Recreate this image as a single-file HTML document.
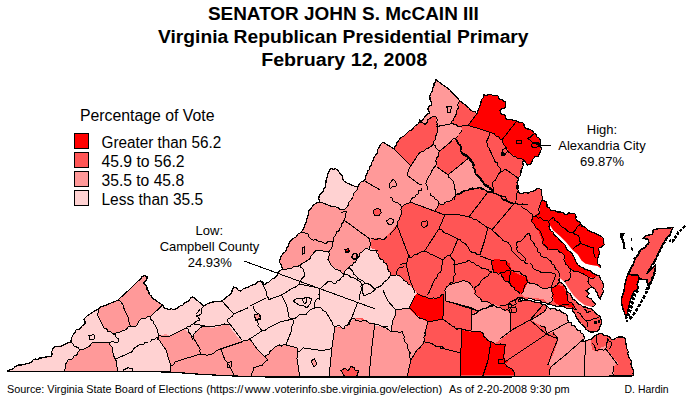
<!DOCTYPE html>
<html><head><meta charset="utf-8"><title>McCain Virginia Primary 2008</title>
<style>
html,body{margin:0;padding:0;background:#fff;}
svg{display:block;}
text{font-family:"Liberation Sans",Arial,sans-serif;fill:#000;}
.t{font-weight:bold;font-size:18.67px;text-anchor:middle;}
.l{font-size:16px;}
.a{font-size:13px;text-anchor:middle;}
.f{font-size:11px;}
</style></head><body>
<svg width="691" height="401" viewBox="0 0 691 401">
<rect width="691" height="401" fill="#fff"/>
<!--MAP-->
<g id="map">
<defs><clipPath id="va"><polygon points="435.6,79.4 449.9,90.0 459.9,100.9 468.9,107.9 476.9,113.9 480.9,102.9 483.9,95.0 488.9,94.4 493.9,95.9 497.9,95.6 499.3,98.9 505.9,101.9 504.9,107.9 501.9,108.9 500.0,110.0 501.7,114.1 505.2,115.2 505.8,118.7 516.2,120.4 517.4,121.6 522.6,122.2 524.3,127.4 532.4,130.8 534.1,133.1 540.5,140.1 540.5,144.7 540.5,151.7 538.8,155.9 534.9,156.9 532.3,159.9 531.5,163.5 527.5,165.1 525.5,162.3 523.5,159.9 522.3,167.9 520.9,173.9 517.9,177.9 517.3,184.9 518.0,190.0 521.0,194.0 530.0,192.0 538.9,188.4 541.9,190.0 542.5,200.0 546.3,202.0 546.9,206.9 552.9,210.9 559.9,211.9 565.9,214.9 568.9,212.9 574.9,213.9 575.9,218.9 579.9,221.9 581.5,225.9 585.9,227.9 590.9,231.9 597.9,234.9 603.9,238.9 604.3,244.9 603.9,245.0 598.9,248.0 599.9,253.0 597.9,258.0 597.9,264.0 600.9,265.9 600.4,268.0 600.4,268.0 597.4,265.7 591.4,265.0 585.4,263.5 581.6,260.5 577.9,254.5 572.7,250.0 566.3,242.3 560.3,236.3 553.3,230.2 550.3,225.5 549.0,226.2 551.0,231.0 557.6,237.4 563.6,243.4 568.3,250.6 574.6,257.8 577.6,264.5 582.4,267.5 589.9,270.4 594.4,274.0 599.6,275.4 599.6,275.4 600.4,279.2 603.4,284.4 602.6,293.4 600.4,299.4 598.1,295.7 595.9,291.2 592.9,287.4 589.9,288.0 586.1,290.4 589.1,293.4 586.9,296.4 591.4,298.7 592.9,301.6 595.9,303.9 592.1,306.9 592.1,306.9 584.8,305.2 578.8,300.7 573.6,295.5 568.3,288.0 564.6,282.0 560.1,278.3 558.3,280.1 562.8,283.8 566.5,289.8 571.8,297.3 577.0,302.5 583.0,307.0 591.4,308.9 594.0,311.0 598.0,315.0 601.0,319.0 601.0,325.0 599.0,330.0 593.0,332.0 587.6,330.5 584.6,326.7 578.2,320.0 574.8,313.3 572.0,308.5 566.0,308.0 560.0,306.0 552.0,305.0 547.0,304.0 540.0,300.6 532.0,299.0 524.0,299.0 520.0,298.0 520.0,300.0 532.0,301.0 539.9,302.6 546.9,306.0 549.9,309.0 559.9,310.0 565.9,314.0 568.9,321.9 576.0,328.0 583.0,333.9 585.0,337.9 583.0,341.9 586.9,340.5 591.9,338.9 596.9,334.9 599.9,333.3 606.9,335.9 613.9,339.9 618.9,336.9 624.9,337.9 626.9,348.9 629.9,358.9 632.9,368.9 633.9,375.9 500.0,377.0 400.0,377.0 268.0,377.0 234.0,376.0 200.0,374.3 170.0,372.0 130.0,371.6 64.0,371.6 7.5,371.6 7.5,371.0 11.0,369.5 19.0,364.9 29.0,363.5 33.0,359.9 42.0,357.9 50.9,356.9 52.9,348.9 54.9,346.3 62.9,345.5 70.9,342.3 72.9,335.0 75.9,330.0 80.9,328.0 84.9,324.0 83.9,319.0 86.9,316.0 97.9,309.0 103.9,306.0 115.9,301.0 118.8,300.0 119.0,298.9 129.0,290.0 138.0,281.0 144.0,275.6 146.9,276.4 146.9,279.0 143.0,283.0 146.9,287.0 148.9,294.0 152.9,298.9 157.9,301.9 162.9,304.9 163.9,307.9 168.9,309.9 177.9,307.9 186.9,301.9 192.9,296.9 203.9,305.9 213.9,301.9 221.8,300.9 231.8,293.0 233.8,287.0 240.8,291.0 246.0,287.9 253.0,284.9 261.0,280.9 264.4,284.9 270.0,280.9 276.9,275.9 277.9,272.9 282.9,268.9 279.9,262.9 280.9,256.9 284.9,252.0 288.9,244.0 293.9,238.0 299.9,233.0 304.0,227.9 307.0,217.9 309.0,209.9 315.0,203.9 320.0,201.9 319.0,195.9 323.0,192.0 325.9,184.0 326.9,178.0 328.9,172.0 330.9,168.0 337.9,170.0 342.9,176.0 343.9,181.0 349.9,184.0 357.9,187.0 360.9,182.0 364.9,180.0 366.9,174.0 369.9,167.0 371.9,162.0 372.9,160.9 375.9,154.9 378.9,147.9 382.9,142.0 393.9,148.9 396.9,143.0 401.9,137.0 405.9,134.0 408.9,131.0 412.9,129.0 417.9,124.0 419.9,120.0 420.0,121.9 424.0,117.9 430.0,112.9 428.0,108.9 432.0,102.9 430.0,98.9 431.0,93.0 434.0,86.0"/></clipPath></defs>
<g clip-path="url(#va)" shape-rendering="crispEdges">
<rect x="0" y="70" width="691" height="320" fill="#ff5555"/>
<polygon points="329.0,385.0 331.9,347.9 334.9,326.9 340.0,326.9 346.0,328.9 349.0,323.0 355.0,318.0 363.0,318.0 366.0,323.0 375.0,325.9 382.9,326.9 390.9,331.9 392.9,320.0 395.9,310.0 408.9,308.0 414.9,296.0 416.9,293.0 409.9,284.9 402.9,278.9 396.9,274.9 390.9,274.9 387.9,267.9 382.9,260.0 378.9,257.0 376.9,250.0 370.9,248.0 365.9,249.0 362.0,251.0 358.0,258.0 354.0,262.9 348.0,267.9 343.0,274.9 337.9,269.9 331.9,265.9 327.9,259.9 328.9,252.0 316.9,250.0 312.9,254.0 309.9,258.9 299.9,264.9 290.9,268.9 282.9,268.9 277.9,272.9 276.9,275.9 270.0,280.9 264.4,284.9 261.0,280.9 253.0,284.9 246.0,287.9 240.8,291.0 233.8,287.0 231.8,293.0 221.8,300.9 213.9,301.9 203.9,305.9 192.9,296.9 186.9,301.9 177.9,307.9 168.9,309.9 163.9,307.9 162.9,304.9 157.9,301.9 152.9,298.9 148.9,294.0 146.9,287.0 143.0,283.0 146.9,279.0 146.9,276.4 144.0,275.6 138.0,281.0 129.0,290.0 119.0,298.9 118.8,300.0 115.9,301.0 103.9,306.0 97.9,309.0 86.9,316.0 83.9,319.0 84.9,324.0 80.9,328.0 75.9,330.0 72.9,335.0 70.9,342.3 62.9,345.5 54.9,346.3 52.9,348.9 50.9,356.9 42.0,357.9 33.0,359.9 29.0,363.5 19.0,364.9 11.0,369.5 7.5,371.0 5.0,372.0 5.0,385.0" fill="#ffd2d2"/>
<polygon points="79.9,349.9 85.9,347.9 91.9,342.9 109.9,342.3 112.9,351.9 115.9,359.9 117.8,371.3 63.9,371.3 66.9,361.9 72.9,357.9 76.9,354.9" fill="#ff9999"/>
<polygon points="97.9,309.0 115.9,301.0 118.8,300.0 123.8,308.0 128.8,319.0 130.8,326.0 121.8,331.0 112.9,334.0 103.9,328.0 98.9,318.0" fill="#ff9999"/>
<polygon points="119.0,298.9 129.0,290.0 138.0,281.0 144.0,275.6 146.9,276.4 146.9,279.0 143.0,283.0 146.9,287.0 148.9,294.0 152.9,298.9 157.9,301.9 162.9,304.9 149.9,316.9 140.0,319.9 136.0,325.9 131.0,326.9 128.0,317.9 122.0,303.9" fill="#ff9999"/>
<polygon points="157.0,336.9 165.9,334.0 169.9,335.9 176.9,332.0 183.9,329.0 186.9,331.0 192.9,336.9 198.9,346.9 200.9,353.9 177.9,360.9 170.9,365.9 165.9,349.9" fill="#ff9999"/>
<polygon points="192.9,336.9 197.9,330.0 204.9,326.0 211.9,328.0 227.9,324.0 231.9,330.0 241.8,341.9 220.9,348.9 213.9,352.9 204.9,354.9 200.9,353.9 198.9,346.9" fill="#ff9999"/>
<polygon points="177.9,360.9 200.9,353.9 204.9,354.9 213.9,352.9 220.9,348.9 224.9,359.9 229.9,367.9 233.9,375.5 199.9,374.3 169.9,371.9 170.9,365.9" fill="#ff9999"/>
<polygon points="220.9,348.9 241.8,341.9 249.8,338.9 257.8,349.9 267.8,359.9 261.8,365.9 253.8,367.9 251.8,376.5 233.9,375.5 229.9,367.9 224.9,359.9" fill="#ff9999"/>
<polygon points="250.0,337.9 258.0,349.9 265.0,357.9 272.0,349.9 277.0,345.9 285.9,344.9 296.9,347.9 297.9,351.9 296.9,357.9 299.9,377.9 238.0,377.9 240.0,349.9" fill="#ff9999"/>
<polygon points="334.9,326.9 343.9,328.9 353.9,318.0 363.8,320.0 374.8,324.0 371.8,347.9 368.8,377.9 328.9,377.9 331.9,347.9" fill="#ff9999"/>
<polygon points="375.0,325.9 382.9,326.9 390.9,331.9 399.9,332.9 402.9,330.9 403.9,338.9 406.9,343.9 408.9,350.9 410.9,359.9 406.9,377.9 367.0,377.9 371.0,347.9" fill="#ff9999"/>
<polygon points="395.9,310.0 408.9,308.0 415.9,315.0 422.9,319.0 427.9,322.0 424.9,332.9 423.9,341.9 416.9,349.9 410.9,359.9 408.9,350.9 406.9,343.9 403.9,338.9 402.9,330.9 399.9,332.9 390.9,331.9 392.9,320.0" fill="#ff9999"/>
<polygon points="282.9,268.9 279.9,262.9 280.9,256.9 284.9,252.0 288.9,244.0 293.9,238.0 299.9,233.0 304.0,227.9 307.0,217.9 309.0,209.9 315.0,203.9 320.0,201.9 319.0,195.9 323.0,192.0 325.9,184.0 326.9,178.0 328.9,172.0 330.9,168.0 337.9,170.0 342.9,176.0 343.9,181.0 349.9,184.0 357.9,187.0 360.9,182.0 364.9,180.0 366.9,174.0 369.9,167.0 371.9,162.0 372.9,160.9 375.9,154.9 378.9,147.9 382.9,142.0 393.9,148.9 396.9,143.0 401.9,137.0 405.9,134.0 408.9,131.0 412.9,129.0 417.9,124.0 419.9,120.0 420.0,121.9 424.0,117.9 430.0,112.9 428.0,108.9 432.0,102.9 430.0,98.9 431.0,93.0 434.0,86.0 435.6,79.4 449.9,90.0 459.9,100.9 456.9,109.9 453.9,117.9 450.9,123.9 461.0,126.4 462.0,130.0 459.0,134.0 456.0,139.0 452.0,141.0 440.0,151.0 437.0,157.9 437.0,166.9 448.0,174.9 468.9,157.9 472.9,162.9 474.9,171.9 479.9,177.9 483.9,183.9 491.9,189.9 492.9,192.9 484.9,189.9 477.9,187.9 469.9,188.9 464.0,190.9 456.0,194.9 455.9,196.0 449.9,201.0 440.9,205.0 438.9,203.0 434.9,210.6 410.0,202.0 402.0,207.0 400.0,217.0 397.0,224.9 394.9,226.0 390.9,232.0 386.9,236.0 382.9,240.0 376.9,238.0 370.9,240.0 370.9,248.0 365.9,249.0 362.0,251.0 358.0,258.0 354.0,262.9 348.0,267.9 343.0,274.9 337.9,269.9 331.9,265.9 327.9,259.9 328.9,252.0 316.9,250.0 312.9,254.0 309.9,258.9 299.9,264.9 290.9,268.9" fill="#ff9999"/>
<polygon points="393.9,148.9 396.9,143.0 401.9,137.0 405.9,134.0 408.9,131.0 412.9,129.0 417.9,124.0 419.9,120.0 420.0,121.9 425.0,124.3 430.0,118.3 435.6,116.5 435.8,117.0 436.8,124.0 437.8,132.0 435.8,139.0 432.8,144.4 428.8,147.9 423.9,150.9 417.9,154.9 410.9,165.9" fill="#ff5555"/>
<polygon points="330.9,168.0 337.9,170.0 342.9,176.0 343.9,181.0 349.9,184.0 357.9,187.0 354.9,192.0 349.9,200.9 346.9,206.9 342.9,209.9 332.9,206.9 320.0,201.9 319.0,195.9 323.0,192.0 325.9,184.0 326.9,178.0 328.9,172.0" fill="#ffd2d2"/>
<polygon points="444.9,289.9 448.9,285.0 461.9,281.0 467.9,282.0 472.9,287.9 474.9,293.9 479.9,297.9 481.9,301.9 489.9,302.9 493.9,304.9 487.9,307.9 479.9,310.9 471.9,307.9 445.9,300.9" fill="#ff9999"/>
<polygon points="472.0,330.9 472.0,314.0 485.9,307.0 493.9,304.0 508.9,312.0 510.9,315.0 510.9,331.9 495.9,342.9 490.9,341.9 485.9,337.9 480.9,331.9" fill="#ff9999"/>
<polygon points="528.0,282.3 534.0,283.9 539.9,286.9 545.9,288.9 550.9,287.9 551.9,291.9 552.9,299.9 547.9,303.9 542.9,298.9 532.0,297.9 524.0,296.9 521.0,293.9 524.0,287.9" fill="#ff9999"/>
<polygon points="542.9,305.0 546.9,306.0 549.9,309.0 559.9,310.0 565.9,314.0 568.9,321.9 576.0,328.0 583.0,333.9 585.0,337.9 583.0,341.9 585.9,341.9 590.9,339.9 591.9,349.9 597.9,351.9 599.9,347.9 607.9,344.9 606.9,348.9 613.9,358.9 618.9,362.9 613.9,365.9 613.5,378.9 549.8,378.9 550.8,366.9 548.8,363.9 553.8,352.9 557.8,340.9 553.8,331.9 546.9,333.9 545.9,328.0 539.9,325.0 530.9,320.0 543.9,312.0 546.9,306.0" fill="#ff9999"/>
<polygon points="476.9,113.9 480.9,102.9 483.9,95.0 488.9,94.4 493.9,95.9 497.9,95.6 499.3,98.9 505.9,101.9 504.9,107.9 501.9,108.9 500.0,110.0 501.7,114.1 505.2,115.2 505.8,118.7 516.2,120.4 517.4,121.6 522.6,122.2 524.3,127.4 532.4,130.8 534.1,133.1 540.5,140.1 540.5,144.7 540.5,151.7 538.8,155.9 534.9,156.9 532.3,159.9 531.5,163.5 527.5,165.1 525.5,162.3 523.5,159.9 515.9,156.9 509.9,153.0 505.9,147.0 501.9,140.0 495.9,135.9 491.9,132.9 479.9,128.9 467.9,125.5" fill="#ff0000"/>
<polygon points="542.5,200.0 546.3,202.0 546.9,206.9 552.9,210.9 559.9,211.9 565.9,214.9 568.9,212.9 574.9,213.9 575.9,218.9 579.9,221.9 581.5,225.9 585.9,227.9 590.9,231.9 597.9,234.9 603.9,238.9 607.8,241.9 607.8,250.0 603.9,267.9 598.9,270.9 598.9,273.5 594.9,277.9 587.9,276.9 579.9,272.9 571.9,269.9 568.9,267.9 564.9,262.0 563.9,255.0 557.9,250.0 548.9,250.0 542.9,245.0 540.9,237.0 537.9,230.0 535.0,225.9 531.0,220.9 533.0,216.3 539.5,212.9 539.9,205.9" fill="#ff0000"/>
<polygon points="491.0,261.0 495.0,258.7 503.7,260.0 510.0,263.7 511.0,271.0 526.0,277.4 528.6,281.0 523.6,291.0 520.0,293.6 515.0,290.0 510.0,283.6 503.7,280.0 501.0,273.7 493.7,272.4" fill="#ff0000"/>
<polygon points="551.0,288.6 556.0,285.0 563.5,286.0 566.0,292.4 567.3,300.0 573.5,305.0 577.3,310.0 572.3,307.3 566.0,306.0 560.0,306.0 554.8,302.3 552.3,296.0" fill="#ff0000"/>
<polygon points="408.9,308.0 414.9,296.0 416.9,293.0 425.9,297.0 435.9,299.0 443.9,294.0 442.9,319.0 427.9,322.0 422.9,319.0 415.9,315.0" fill="#ff0000"/>
<polygon points="462.0,330.0 471.0,331.9 480.9,331.9 485.9,337.9 490.9,341.9 487.9,360.9 482.9,374.9 460.0,374.9 461.0,352.9" fill="#ff0000"/>
<polygon points="490.9,341.9 497.9,344.9 505.9,343.9 504.9,351.9 503.9,358.9 508.9,360.9 504.9,363.9 509.9,367.9 513.9,371.9 514.9,374.9 482.9,374.9 487.9,360.9" fill="#ff0000"/>
</g>
<g shape-rendering="crispEdges">
<polygon points="653.3,229.7 659.2,228.5 666.6,228.3 673.2,227.5 671.7,229.7 670.3,234.1 666.6,237.8 663.6,243.0 660.7,248.9 657.7,254.8 654.8,260.7 651.9,265.1 648.9,270.2 646.7,273.9 655.5,265.0 654.8,272.4 651.9,279.7 648.9,286.4 646.7,279.7 639.3,279.0 637.9,275.0 627.6,274.7 629.8,270.2 632.0,265.0 629.0,273.9 629.8,269.5 632.7,265.8 634.2,261.4 635.7,257.7 638.6,254.8 640.8,249.6 645.2,247.4 646.7,244.5 648.9,243.0 648.2,239.3 643.0,238.6 646.0,235.6 652.6,234.1" fill="#ff5555" stroke="#000" stroke-width="1.4"/>
<polygon points="627.6,274.7 637.9,275.0 639.3,279.0 637.1,284.1 638.6,288.6 634.2,291.5 632.0,295.9 630.5,300.3 629.0,306.2 627.6,312.1 626.1,319.2 625.3,315.1 623.1,309.2 621.7,304.0 621.7,298.1 623.9,291.5 624.6,285.6 626.1,279.7" fill="#ff0000" stroke="#000" stroke-width="1.4"/>
<polyline points="685.0,226.0 681.3,229.7 678.4,232.4 675.4,237.1 672.5,241.2 669.5,240.3" fill="none" stroke="#000" stroke-width="2.6" stroke-dasharray="3 1.3"/>
<polyline points="670.7,233.9 666.6,238.6 663.6,243.7 660.7,249.6 657.7,255.5 654.8,260.9 651.9,265.8 648.9,271.0" fill="none" stroke="#000" stroke-width="2.2" stroke-dasharray="3.5 1.2"/>
<polyline points="654.8,272.4 651.9,279.7 648.9,287.1 645.2,294.5 641.5,301.8 637.1,309.2 632.7,315.8 628.6,319.8" fill="none" stroke="#000" stroke-width="2.4" stroke-dasharray="3.5 1.5"/>
<polyline points="637.9,290.3 634.5,294.5 633.0,300.3 631.5,306.2 629.5,312.1 627.6,318.0" fill="none" stroke="#000" stroke-width="3.0" stroke-dasharray="3 1.2"/>
<polyline points="646.7,279.7 648.2,285.6 646.0,290.8" fill="none" stroke="#000" stroke-width="2.0" stroke-dasharray="3 1"/>
<polyline points="634.2,259.2 635.7,257.0 637.9,254.8 640.1,250.3" fill="none" stroke="#000" stroke-width="2.2" stroke-dasharray="2.5 1.5"/>
<polyline points="640.8,249.6 645.2,247.4 648.2,243.7" fill="none" stroke="#000" stroke-width="1.8" stroke-dasharray="3 1"/>
<polygon points="619.5,233.4 624.6,233.4 622.7,237.1 624.6,242.2 625.6,248.6 623.1,248.6 622.4,241.5 620.2,237.1" fill="#000"/>
<polygon points="631.2,238.3 632.4,238.3 632.4,241.2 631.2,241.2" fill="#000"/>
<polygon points="631.2,247.1 633.0,247.7 632.7,250.6 631.5,250.1" fill="#000"/>
<polygon points="625.8,319.6 628.0,319.6 628.0,321.8 625.8,321.8" fill="#000"/>
</g>
<g fill="none" stroke="#000" stroke-width="1" stroke-linejoin="round" shape-rendering="crispEdges">
<polyline points="459.9,100.9 458.3,102.9 457.7,105.2 458.4,107.9 456.9,109.9 456.5,112.8 455.7,115.5 453.9,117.9 453.3,120.1 451.3,121.6 450.9,123.9"/>
<polyline points="420.0,121.9 422.7,122.7 425.0,124.3 427.0,122.6 427.7,119.7 430.0,118.3 432.6,116.7 435.6,116.5 437.5,119.9 436.8,122.1 437.6,124.3 436.9,126.5 450.9,123.9"/>
<polyline points="476.9,113.9 467.9,125.5"/>
<polyline points="450.9,123.9 453.5,124.0 456.1,124.5 458.2,126.5 460.9,126.5 463.2,125.7 465.5,125.2 467.9,125.5"/>
<polyline points="467.9,125.5 479.9,128.9 491.9,132.9 494.3,133.8 495.9,135.9 498.6,136.6 500.2,139.3 502.9,139.9"/>
<polyline points="393.9,148.9 410.9,165.9"/>
<polyline points="410.9,165.9 409.3,167.6 408.9,169.9 407.8,172.8 407.9,175.9 418.9,183.9 421.9,184.9"/>
<polyline points="436.8,124.0 437.9,126.6 437.9,129.3 437.8,132.0 436.5,134.1 435.7,136.5 435.8,139.0 433.7,141.3 432.8,144.4 431.1,146.5 428.8,147.9 426.1,149.0 423.9,150.9 421.6,151.8 419.5,153.0 417.9,154.9 410.9,165.9"/>
<polyline points="432.8,144.4 435.1,145.4 435.9,148.1 437.6,149.8 439.8,150.9 438.4,153.0 438.6,155.9 436.8,157.9 435.7,160.5 436.6,163.3 435.8,165.9 433.9,167.5 432.8,169.6 431.3,171.4 430.8,173.9 428.9,176.2 427.8,178.9 426.3,181.2 425.9,183.9 427.5,186.7 427.8,189.9"/>
<polyline points="439.8,150.9 450.8,142.0 452.0,139.9 453.8,138.4 456.5,138.0 457.8,136.0"/>
<polyline points="363.5,180.3 379.9,189.9"/>
<polyline points="501.9,140.0 515.9,122.0"/>
<polyline points="501.9,140.0 502.8,142.6 504.0,145.0 505.9,147.0 506.5,149.5 507.9,151.5 509.9,153.0 511.5,154.9 513.5,156.2 515.9,156.9 518.1,158.7 521.1,158.4 523.5,159.9"/>
<polyline points="489.9,133.0 489.4,135.5 488.3,137.7 487.4,140.0 485.9,142.0 487.4,143.8 487.3,146.3 488.9,148.0 493.9,158.9 494.7,161.6 497.4,163.0 497.9,166.0 499.9,167.9 500.9,171.9"/>
<polyline points="500.9,171.9 503.2,170.8 504.9,168.9 517.9,177.9"/>
<polyline points="500.9,171.9 498.5,174.1 496.9,176.9 495.6,180.0 492.9,181.9 492.7,184.3 492.9,186.7 493.9,188.9 492.9,192.9"/>
<polyline points="462.0,130.0 460.9,132.3 459.0,134.0"/>
<polyline points="456.0,139.0 457.9,140.6 458.1,143.4 460.0,145.0 461.5,147.5 460.8,150.5 462.0,153.0 463.8,155.4 466.2,156.8 468.9,157.9 471.5,159.9 472.9,162.9 472.7,165.3 473.4,167.5 475.2,169.5 474.9,171.9 476.1,174.3 478.8,175.5 479.9,177.9 482.0,179.4 482.1,182.2 483.9,183.9 486.4,184.8 487.4,187.6 490.4,187.8 491.9,189.9"/>
<polyline points="468.9,157.9 448.0,174.9"/>
<polyline points="437.0,166.9 448.0,174.9 448.9,177.5 451.5,179.1 453.1,181.3 454.0,183.9 456.0,194.9 454.8,197.3 455.0,199.9"/>
<polyline points="456.0,194.9 457.6,193.2 460.4,193.6 461.8,191.4 464.0,190.9 467.1,190.5 469.9,188.9 472.5,187.7 475.3,188.9 477.9,187.9 480.4,187.8 482.4,189.9 484.9,189.9 487.3,191.7 490.1,192.4 492.9,192.9"/>
<polyline points="533.6,133.7 532.0,135.7 530.1,137.3 527.8,138.4 530.3,140.3"/>
<polyline points="530.3,140.3 532.1,142.3 534.7,143.0"/>
<polyline points="390.0,197.0 392.1,198.2 392.8,200.9 395.0,202.0 397.8,203.0 400.2,204.6 402.0,207.0 403.6,205.2 405.7,204.0 408.3,203.7 410.0,202.0 444.9,215.0"/>
<polyline points="402.0,207.0 400.9,209.4 401.8,212.2 401.4,214.7 400.0,217.0 399.5,219.8 397.2,222.0 397.0,224.9 403.0,240.9 408.0,253.9 409.6,255.6 410.0,257.9 412.4,257.0 414.0,254.9 416.6,254.6 418.9,253.0 421.3,252.0 424.0,251.9"/>
<polyline points="397.0,224.9 396.0,227.3 394.7,229.4 392.9,231.2 391.0,232.9 390.0,234.9"/>
<polyline points="444.9,215.0 438.9,228.9 424.0,251.9"/>
<polyline points="410.0,202.0 411.1,199.9 412.4,198.0 414.9,197.1 416.0,195.0 418.1,193.8 418.3,190.9 421.1,190.3 422.0,188.0"/>
<polyline points="429.9,193.0 430.9,195.5 433.8,196.6 434.9,199.0 437.5,200.4 438.9,203.0 438.2,205.9 436.7,208.3 434.9,210.6"/>
<polyline points="455.9,196.0 453.4,197.1 452.3,199.9 449.9,201.0 447.3,201.3 445.1,202.3 443.5,204.8 440.9,205.0 438.9,203.0"/>
<polyline points="444.9,215.0 455.9,214.0 468.9,217.0 471.4,217.5 473.2,219.4 475.9,219.3 477.9,220.9 487.9,227.9 490.3,228.2 491.9,229.9"/>
<polyline points="468.9,217.0 487.9,192.0"/>
<polyline points="491.9,229.9 513.8,204.0"/>
<polyline points="492.9,193.0 496.1,193.4 498.8,195.0 501.3,196.1 502.4,198.9 504.8,200.0 506.8,201.6 509.6,201.3 511.2,203.8 513.8,204.0 516.9,203.7 519.8,205.0 522.4,204.0 525.2,205.0 527.8,204.0"/>
<polyline points="438.9,228.9 441.5,229.5 443.2,231.8 445.3,233.4 447.9,233.9 457.9,238.9 460.4,239.5 461.6,242.0 463.9,242.9 466.1,244.4 467.5,246.4 468.9,248.5 469.9,250.9 472.2,252.4 475.1,252.4 477.1,254.7 479.9,254.9"/>
<polyline points="487.9,227.9 483.9,242.9 479.9,254.9"/>
<polyline points="491.9,229.9 501.8,238.9 503.4,240.9 506.2,241.4 508.3,242.8 509.8,244.9 511.4,247.7 511.8,250.9 519.8,258.9 521.5,260.7 524.1,260.9 525.4,263.2 527.8,263.9"/>
<polyline points="457.9,238.9 452.9,250.9 451.8,253.2 449.9,254.9"/>
<polyline points="424.0,251.9 426.5,251.8 428.6,252.9 430.5,254.6 432.9,254.9 442.9,259.9 444.9,257.8 447.1,255.9 449.9,254.9"/>
<polyline points="449.9,254.9 451.1,257.3 452.6,259.4 454.9,260.9 453.9,264.9"/>
<polyline points="518.4,190.0 517.7,192.3 516.0,194.0 516.4,196.3 516.1,198.6 516.0,200.8 515.0,203.0"/>
<polyline points="521.0,205.9 522.7,207.8 525.0,208.9 527.8,210.5 530.0,212.9 532.0,214.2 533.0,216.3"/>
<polyline points="542.5,200.0 540.4,202.6 539.9,205.9 538.9,208.2 538.9,210.5 539.5,212.9 537.7,214.6 535.6,215.9 533.0,216.3"/>
<polyline points="533.0,216.3 532.5,218.8 531.0,220.9 533.4,223.1 535.0,225.9 536.4,228.4 538.9,229.9 540.4,231.6 541.4,233.6 541.9,235.9 543.1,238.5 543.0,241.2 542.9,243.9 545.1,245.5 546.9,247.3 547.9,249.9"/>
<polyline points="533.0,216.3 535.8,216.1 538.1,218.1 540.9,217.9 542.5,219.7 544.6,220.6 547.2,220.4 548.9,221.9 549.5,225.9"/>
<polyline points="549.2,221.2 551.0,218.8 553.7,217.4 554.9,220.2 557.4,221.9 559.5,223.3 560.5,225.9 562.7,227.2 565.3,228.7 567.2,230.9 569.9,232.5 573.1,232.4 575.6,230.2 576.9,227.2 579.9,224.6"/>
<polyline points="573.1,232.4 574.8,234.3 577.4,235.0 579.1,236.9 579.4,240.0 580.6,242.9 582.9,244.8 585.9,245.1 588.2,246.4 590.7,247.1 593.3,247.3 594.0,249.5 593.3,251.8 594.1,254.0 594.4,256.3 596.0,258.0"/>
<polyline points="580.6,242.9 578.3,245.2 575.4,246.6 573.1,248.8"/>
<polyline points="548.9,250.0 551.1,249.5 553.4,249.5 555.6,249.4 557.9,250.0 559.5,252.1 562.2,253.0 563.9,255.0 565.0,257.2 563.8,259.8 564.9,262.0 565.8,264.3 568.0,265.7 568.9,267.9 571.9,269.9 574.3,271.6 577.5,271.1 579.9,272.9 582.3,273.2 584.1,274.5 586.1,275.4 587.9,276.9 590.1,278.1 592.4,278.4 594.9,277.9"/>
<polyline points="529.0,233.0 530.2,235.9 530.0,239.0 532.2,240.9 533.9,243.3 535.0,246.0 536.7,247.7 537.6,249.7 537.9,252.0 540.1,253.1 540.8,255.7 542.9,257.0 545.3,257.3 547.2,258.3 548.9,260.0 551.0,261.3 551.8,263.8 553.9,265.0 554.8,267.2 555.9,269.4 557.9,270.9 559.4,273.7 559.9,276.9"/>
<polyline points="516.0,244.0 517.2,246.5 516.6,249.5 518.0,252.0 520.8,253.6 523.0,256.0 525.1,258.2 526.0,261.0"/>
<polyline points="530.0,263.0 532.1,265.1 533.0,267.9 534.7,269.4 536.6,270.5 538.9,270.9 541.6,272.7 544.9,272.9 547.2,272.3 549.6,272.0 551.9,272.9 554.2,273.4 555.9,274.9"/>
<polyline points="516.0,244.0 517.5,241.8 520.5,241.7 522.3,239.9 524.0,238.0 525.3,236.0 527.0,234.3 529.0,233.0"/>
<polyline points="500.0,260.0 502.5,260.9 505.0,260.0 507.0,261.9 506.9,265.0 509.0,266.9 511.0,269.9 513.1,270.9 515.4,271.5 517.8,271.0 520.0,271.9 521.3,274.0 523.1,275.3 525.7,275.9 527.0,277.9 526.9,280.2 528.0,282.3"/>
<polyline points="528.0,282.3 526.3,283.9 524.7,285.6 524.0,287.9 523.8,290.3 522.7,292.2 521.0,293.9"/>
<polyline points="528.0,282.3 530.9,283.6 534.0,283.9 536.3,284.3 538.2,285.4 539.9,286.9 542.7,288.6 545.9,288.9 548.3,287.8 550.9,287.9 555.9,274.9"/>
<polyline points="550.9,287.9 551.9,291.9 553.1,294.5 551.8,297.3 552.9,299.9 550.8,302.3 547.9,303.9"/>
<polyline points="550.9,287.9 553.2,287.5 555.1,286.4 556.9,284.9 558.5,283.1 559.4,281.0 559.5,278.5"/>
<polyline points="570.9,269.9 569.7,272.5 571.0,275.3 569.9,277.9 568.6,280.1 565.8,280.3 564.3,282.3"/>
<polyline points="587.9,276.9 589.0,279.1 587.9,281.7 588.9,283.9 591.0,285.8 592.3,288.3"/>
<polyline points="568.9,304.9 566.6,304.5 564.3,304.8 562.1,305.0 559.9,305.9"/>
<polyline points="409.0,255.0 408.8,257.4 407.0,259.3 407.2,261.9 406.0,264.0 402.9,263.8 400.0,265.0"/>
<polyline points="406.0,264.0 410.0,280.0 415.0,292.9"/>
<polyline points="442.9,260.0 440.9,272.0 438.8,273.2 437.5,275.1 436.9,277.6 435.0,279.0 430.0,289.9 429.0,292.7 427.0,294.9"/>
<polyline points="453.9,265.0 454.8,267.2 454.0,269.7 454.9,272.0 455.2,274.7 453.3,276.9 454.0,279.6 452.9,282.0 450.4,282.9 448.9,285.0 446.5,287.1 444.9,289.9 445.9,300.9"/>
<polyline points="453.9,265.0 465.9,262.0 468.9,260.0 470.9,262.1 473.9,262.9 475.9,265.0 478.6,265.4 480.7,267.6 483.1,268.8 485.9,269.0 488.1,269.5 489.6,271.7 491.9,272.0"/>
<polyline points="479.9,256.0 490.9,260.0 493.9,260.0"/>
<polyline points="491.9,272.0 489.3,273.4 487.9,276.0 485.6,277.4 483.3,278.8 481.3,280.6 479.9,283.0 478.4,285.3 476.2,286.7 473.9,287.9 475.3,290.8 474.9,293.9 477.1,296.3 479.9,297.9 481.3,299.7 481.9,301.9 484.6,301.7 487.3,301.8 489.9,302.9 491.5,304.7 493.9,304.9 495.6,306.5 497.6,307.6 500.1,307.5 501.9,308.9 504.7,310.1 507.8,309.9"/>
<polyline points="448.9,285.0 461.9,281.0 465.0,280.9 467.9,282.0 470.2,283.4 471.6,285.6 472.9,287.9"/>
<polyline points="445.9,300.9 471.9,307.9 474.3,309.7 476.9,310.7 479.9,310.9 482.3,309.3 485.0,308.2 487.9,307.9 489.5,306.1 492.1,306.3 493.9,304.9"/>
<polyline points="443.9,294.9 442.9,318.9 451.9,325.9 454.3,326.7 455.6,329.0 457.9,329.9"/>
<polyline points="471.9,307.9 471.9,329.9"/>
<polyline points="507.8,309.9 509.9,311.4 510.8,313.9 510.8,329.9"/>
<polyline points="507.8,309.9 508.8,307.0 508.8,303.9 510.3,301.8 512.8,300.9 515.6,299.9 517.8,297.9"/>
<polyline points="499.9,272.4 502.5,272.3 505.0,272.0 507.2,270.1 509.8,270.0 510.3,272.4 510.1,274.7 509.4,277.0 509.7,280.1 508.8,283.0"/>
<polyline points="500.0,306.0 512.0,304.0"/>
<polyline points="512.0,304.0 511.3,306.2 510.8,308.4 511.9,310.8 511.0,313.0"/>
<polyline points="512.0,329.9 530.0,320.0 545.9,333.9 557.9,327.9 568.9,321.9"/>
<polyline points="530.0,320.0 542.9,305.0"/>
<polyline points="500.0,338.9 512.0,329.9"/>
<polyline points="545.9,333.9 557.9,338.9 552.9,350.9 547.9,364.9"/>
<polyline points="591.9,342.9 593.7,344.5 594.7,346.5 595.4,348.7 595.9,350.9 598.3,349.8 600.8,349.4 603.6,350.2 605.9,348.9 607.8,337.9"/>
<polyline points="605.9,348.9 617.8,364.9"/>
<polyline points="607.8,337.9 608.5,340.6 611.2,342.1 611.8,344.9 610.3,346.7 609.8,348.9"/>
<polyline points="530.9,320.0 543.9,312.0 545.3,310.2 546.6,308.4 546.9,306.0"/>
<polyline points="539.9,325.0 541.6,326.6 544.1,326.6 545.9,328.0 545.9,331.0 546.9,333.9"/>
<polyline points="546.9,333.9 504.9,361.9"/>
<polyline points="553.8,331.9 554.0,334.5 556.4,336.1 557.4,338.4 557.8,340.9"/>
<polyline points="550.8,366.9 549.7,369.5 549.6,372.2 549.8,374.9"/>
<polyline points="550.8,367.0 567.8,353.0 583.4,339.2"/>
<polyline points="461.0,352.9 440.0,347.9"/>
<polyline points="487.9,360.9 490.9,341.9"/>
<polyline points="585.9,341.9 585.0,354.9 584.4,375.9"/>
<polyline points="613.9,365.9 613.3,368.4 613.2,370.9 612.8,373.4 613.5,375.9"/>
<polyline points="596.9,335.9 596.6,338.2 596.6,340.4 596.9,342.7 597.5,344.9"/>
<polyline points="70.9,342.3 72.9,343.7 73.9,345.9 76.2,346.8 78.4,347.9 79.9,349.9 77.9,352.1 76.9,354.9 74.4,355.7 72.9,357.9 71.2,359.7 68.4,359.8 66.9,361.9 65.7,364.1 65.8,366.7 65.1,369.1 63.9,371.3"/>
<polyline points="79.9,349.9 83.2,349.7 85.9,347.9 88.4,346.9 90.4,345.2 91.9,342.9 109.9,342.3 112.3,341.6 114.6,342.2 116.9,342.9 118.6,341.3 118.8,338.9 116.4,337.8 115.4,335.0 112.9,334.0 111.0,332.0 108.0,331.6 106.6,328.8 103.9,328.0 98.9,318.0 98.0,315.8 97.7,313.6 98.7,311.2 97.9,309.0"/>
<polyline points="109.9,342.3 109.8,345.0 111.9,346.9 112.7,349.3 112.9,351.9 113.3,354.8 114.4,357.4 115.9,359.9 117.8,371.3"/>
<polyline points="118.8,300.0 120.6,301.7 122.0,303.6 123.2,305.6 123.8,308.0 128.8,319.0 128.9,321.5 129.5,323.8 130.8,326.0 128.3,326.8 126.6,329.0 124.3,330.2 121.8,331.0 119.8,332.3 117.2,332.0 115.3,333.9 112.9,334.0"/>
<polyline points="115.9,358.9 131.8,351.9 133.3,349.4 135.3,347.4 137.8,345.9 140.1,344.5 143.1,344.9 145.0,342.4 147.8,342.3"/>
<polyline points="131.0,326.9 133.6,326.9 136.0,325.9 137.8,324.2 138.2,321.6 140.0,319.9 142.2,318.3 145.1,319.1 147.2,317.0 149.9,316.9 162.9,304.9"/>
<polyline points="149.9,316.9 150.7,319.6 153.3,321.1 153.9,324.0 155.9,325.9 156.1,328.3 157.9,330.2 157.7,332.8 158.9,334.9 158.7,337.7 156.9,339.9"/>
<polyline points="158.9,334.9 161.0,336.0 163.3,336.4 165.5,336.9 167.9,336.9 185.9,327.9 187.5,326.2 190.1,326.3 191.5,324.2 193.9,323.9 195.5,322.0 197.5,320.6 199.9,319.9 198.4,317.4 195.9,315.9 198.3,315.7 200.2,314.5 201.9,312.9 200.9,308.9 203.9,305.9"/>
<polyline points="193.9,323.9 209.9,326.9 221.8,324.9 224.4,324.0 227.2,324.9 229.8,323.9 228.0,321.7 227.8,318.9 230.3,317.8 232.3,316.2 233.8,313.9 221.8,300.9"/>
<polyline points="233.8,313.9 247.8,307.9"/>
<polyline points="185.9,327.9 188.2,329.3 188.6,332.4 190.9,333.9 191.4,337.1 192.9,339.9"/>
<polyline points="229.8,323.9 241.8,339.9"/>
<polyline points="150.0,341.9 152.0,339.7 155.0,339.1 157.0,336.9 165.9,349.9 170.9,365.9 170.9,369.0 169.9,371.9"/>
<polyline points="192.9,336.9 198.9,346.9 200.2,349.0 199.8,351.7 200.9,353.9 177.9,360.9 175.1,361.9 173.5,364.7 170.9,365.9"/>
<polyline points="195.9,314.0 198.3,311.8 199.9,309.0"/>
<polyline points="192.9,336.9 193.9,334.1 195.7,331.9 197.9,330.0 199.9,328.2 202.1,326.6 204.9,326.0"/>
<polyline points="241.8,341.9 220.9,348.9 218.3,349.7 216.0,351.1 213.9,352.9 211.8,354.1 209.6,354.6 207.3,355.2 204.9,354.9 200.9,353.9"/>
<polyline points="220.9,348.9 224.9,359.9 226.7,361.5 227.9,363.6 229.2,365.6 229.9,367.9 231.7,370.2 233.0,372.7 233.9,375.5"/>
<polyline points="241.8,341.9 244.2,340.2 247.3,340.4 249.8,338.9 261.8,331.0 264.1,330.6 266.1,329.7 267.8,328.0"/>
<polyline points="249.8,338.9 257.8,349.9 267.8,359.9"/>
<polyline points="267.8,359.9 265.3,361.4 263.4,363.5 261.8,365.9 259.0,365.9 256.3,366.7 253.8,367.9 254.0,370.2 252.2,372.1 251.5,374.2 251.8,376.5"/>
<polyline points="253.8,306.0 254.0,308.8 255.2,311.2 257.3,313.3 257.8,316.0 257.2,318.5 257.1,321.0 258.3,323.5 257.8,326.0 260.2,328.2 261.8,331.0"/>
<polyline points="261.0,280.9 267.0,292.9 266.5,295.3 268.1,297.5 268.0,299.9"/>
<polyline points="282.9,268.9 285.6,269.6 288.2,268.4 290.9,268.9 292.8,267.1 295.2,266.4 297.9,266.4 299.9,264.9 309.9,258.9 310.8,256.1 312.9,254.0 314.6,251.7 316.9,250.0 328.9,252.0 330.9,249.0 332.3,246.9 332.7,244.5 332.9,242.0 329.9,241.0 327.4,241.8 325.9,244.0 323.4,242.5 320.8,241.5 317.9,241.0 315.8,239.6 313.1,240.2 310.9,239.0 308.9,236.8 307.9,234.0 305.3,233.1 302.7,232.6 299.9,233.0"/>
<polyline points="332.9,242.0 333.9,239.6 333.9,237.0 335.8,235.0 336.3,232.1 339.1,230.7 339.9,228.0 341.5,226.3 341.4,223.7 343.6,222.3 343.9,220.0"/>
<polyline points="343.9,220.0 369.8,239.0 369.7,241.6 370.8,244.0 369.6,246.9 369.8,250.0 367.4,248.9 364.8,249.0 362.7,251.5 359.8,253.0 359.5,255.5 358.3,257.7 356.3,259.4 355.8,261.9 353.5,262.8 352.7,265.3 350.1,265.8 348.8,267.9 346.7,269.5 344.9,271.4 343.9,273.9"/>
<polyline points="328.9,252.0 329.2,254.7 328.7,257.3 327.9,259.9 329.8,261.5 330.2,264.2 331.9,265.9 333.5,267.8 335.5,269.2 337.9,269.9 340.2,270.8 341.6,273.0 343.9,273.9"/>
<polyline points="343.9,273.9 343.1,276.4 340.9,277.9 339.7,280.0 337.1,280.5 336.2,283.0 333.9,283.9 331.7,281.9 328.9,280.9 319.9,288.9"/>
<polyline points="299.9,264.9 300.4,267.4 303.0,268.5 303.0,271.3 304.9,272.9 303.9,276.9 301.6,278.8 300.1,281.2 298.9,283.9 297.2,285.6 295.3,287.1 292.9,287.9 281.9,294.9 268.0,299.9"/>
<polyline points="298.9,283.9 317.9,287.9"/>
<polyline points="319.9,288.9 319.9,292.0 318.9,294.9 319.8,297.3 319.9,299.9"/>
<polyline points="343.9,273.9 346.6,274.4 349.1,275.3 351.0,277.7 353.8,277.9 356.2,278.9 358.2,280.4 360.3,281.7 361.8,283.9 360.7,286.5 361.7,289.3 360.8,291.9 359.7,294.5 359.7,297.2 359.8,299.9"/>
<polyline points="369.8,250.0 372.4,250.9 375.2,250.1 377.8,251.0"/>
<polyline points="370.8,239.0 373.1,238.5 375.5,239.8 377.8,239.0"/>
<polyline points="250.0,306.0 266.0,298.0"/>
<polyline points="281.0,294.0 286.9,306.0 288.9,317.0 290.6,318.7 292.9,319.0"/>
<polyline points="268.0,327.9 280.0,322.0 292.9,319.0"/>
<polyline points="292.9,319.0 295.7,318.0 297.9,316.1 299.9,314.0 303.0,314.0 305.9,315.0 307.5,312.6 309.3,310.4 311.9,309.0 314.9,308.0 317.9,307.1 320.9,308.0 323.1,310.4 325.9,312.0 331.9,322.0 332.9,324.8 334.9,326.9"/>
<polyline points="334.9,326.9 337.3,325.8 339.9,325.9 341.5,327.9 343.9,328.9 344.9,326.1 347.9,324.8 348.9,322.0 351.0,319.4 353.9,318.0 355.9,320.2 358.8,321.0 361.4,321.2 363.8,320.0 366.2,320.7 368.1,322.2 369.8,324.0 372.3,323.5 374.8,324.0 377.4,324.4 379.8,325.2 381.8,326.9 384.8,326.4 387.8,326.9"/>
<polyline points="349.0,325.0 357.8,302.0"/>
<polyline points="334.9,326.9 331.9,347.9 328.9,377.9"/>
<polyline points="374.8,324.0 371.8,347.9 368.8,377.9"/>
<polyline points="292.9,319.0 293.4,321.8 292.9,324.5 291.6,327.1 291.9,329.9 285.9,344.9"/>
<polyline points="265.0,357.9 266.1,355.3 268.9,354.2 269.8,351.5 272.0,349.9 274.2,347.5 277.0,345.9 279.1,344.8 281.5,346.1 283.6,344.7 285.9,344.9 296.9,347.9 297.9,351.9 298.0,355.0 296.9,357.9 299.9,377.9"/>
<polyline points="297.9,351.9 300.8,350.4 302.9,347.9 323.9,350.9 326.4,349.3 329.4,349.3 331.9,347.9"/>
<polyline points="318.9,298.0 316.3,299.4 314.9,302.0 314.1,305.0 314.9,308.0"/>
<polyline points="382.9,326.9 385.3,327.5 387.2,328.9 389.2,330.1 390.9,331.9 393.2,331.5 395.5,331.6 397.7,331.9 399.9,332.9 402.9,330.9 402.7,333.6 404.2,336.1 403.9,338.9 404.7,341.8 406.9,343.9 408.0,346.1 407.8,348.7 408.9,350.9 410.3,353.0 409.0,355.6 409.7,357.8 410.9,359.9 406.9,377.9"/>
<polyline points="382.9,290.0 387.9,301.0 395.9,310.0 395.7,312.7 395.2,315.3 394.3,317.7 392.9,320.0 390.9,331.9"/>
<polyline points="395.9,310.0 408.9,308.0 411.3,309.1 412.9,311.0 414.7,312.7 415.9,315.0 418.0,316.8 420.1,318.4 422.9,319.0 425.7,320.0 427.9,322.0 424.9,332.9 425.3,335.2 423.8,337.3 424.8,339.7 423.9,341.9 422.8,344.5 420.9,346.4 419.1,348.3 416.9,349.9 410.9,359.9"/>
<polyline points="408.9,308.0 414.9,296.0"/>
<polyline points="416.9,293.0 418.9,294.6 421.1,295.7 423.4,296.5 425.9,297.0 428.3,298.2 430.8,298.7 433.5,297.9 435.9,299.0 437.5,297.2 440.2,297.0 441.5,294.6 443.9,294.0"/>
<polyline points="442.9,319.0 427.9,322.0"/>
<polyline points="455.8,328.9 458.8,328.1 461.8,328.9 464.2,329.7 466.7,330.3 469.2,330.5 471.8,329.9"/>
<polyline points="423.9,341.9 426.6,342.1 429.1,342.9 431.7,343.3 433.9,344.9 436.2,346.4 438.7,346.9 441.6,346.4 443.9,347.9"/>
<polyline points="461.8,328.9 460.8,352.9 460.8,377.9"/>
<polyline points="376.9,238.0 380.1,238.5 382.9,240.0 385.4,238.5 386.9,236.0"/>
<polyline points="403.9,265.9 402.2,267.5 399.6,267.2 397.9,268.9 396.8,271.8 396.9,274.9 393.9,275.5 390.9,274.9 390.3,272.4 388.1,270.6 387.9,267.9 387.3,265.5 386.1,263.5 383.5,262.4 382.9,260.0 380.5,259.0 378.9,257.0 378.8,254.5 376.7,252.6 376.9,250.0"/>
<polyline points="396.9,274.9 399.3,275.6 401.2,277.1 402.9,278.9 404.2,280.9 406.9,281.3 407.7,283.9 409.9,284.9"/>
<polyline points="348.0,267.9 351.0,269.2 353.0,271.9 353.9,274.4 356.0,275.9 358.0,278.5 361.0,279.9 363.3,281.0 365.0,282.9 368.9,283.9 371.3,285.5 373.4,287.4 374.9,289.9 376.4,287.7 378.9,286.9 381.1,285.7 382.7,284.0 383.9,281.9 386.1,280.6 388.0,279.0 389.5,277.0 390.9,274.9"/>
<polyline points="320.0,201.9 332.9,206.9 335.6,207.0 338.1,207.7 340.2,209.9 342.9,209.9 345.2,208.9 346.9,206.9 348.3,205.1 348.3,202.6 349.9,200.9 351.8,199.0 353.0,196.8 353.2,194.0 354.9,192.0 357.1,189.9 357.9,187.0"/>
<polyline points="340.9,212.9 343.8,211.5 346.9,211.9 345.3,214.3 345.4,217.4 343.9,219.9"/>
<polyline points="471.0,331.9 473.5,331.1 475.9,331.2 478.4,331.1 480.9,331.9 483.0,333.5 483.7,336.3 485.9,337.9 487.9,340.5 490.9,341.9 493.5,342.2 495.3,344.5 497.9,344.9 500.5,344.0 503.3,345.0 505.9,343.9 504.8,346.5 504.8,349.2 504.9,351.9 504.0,354.1 503.6,356.5 503.9,358.9"/>
<polyline points="504.9,363.9 507.0,366.4 509.9,367.9 512.4,369.4 513.9,371.9 514.9,375.9"/>
<polyline points="487.9,360.9 482.9,375.9"/>
<polyline points="520.0,293.6 517.8,291.4 515.0,290.0 514.0,287.4 511.3,286.0 510.0,283.6 508.3,281.7 505.5,281.8 503.7,280.0 503.5,277.6 501.2,276.1 501.0,273.7 498.4,274.1 496.2,272.3 493.7,272.4 491.0,261.0"/>
<polyline points="566.0,292.4 567.1,294.8 567.4,297.4 567.3,300.0 569.0,302.1 571.8,302.9 573.5,305.0 574.8,308.0 577.3,310.0 574.5,309.3 572.3,307.3"/>
<polyline points="577.4,311.9 580.2,313.7 582.0,316.5 583.8,319.1 586.4,320.9 587.9,323.8 588.0,327.0"/>
<polyline points="586.4,320.9 589.4,320.9 592.0,319.5 593.9,318.1 596.5,318.6 598.4,317.2"/>
<polyline points="584.0,309.0 586.0,310.3 587.0,312.5 590.9,311.2"/>
<polyline points="445.9,300.9 472.0,309.0 475.2,309.6 478.0,311.4 480.4,309.7 483.1,308.8 486.0,308.5 488.5,306.4 491.5,305.2"/>
<polyline points="472.0,314.5 474.3,314.1 476.3,313.1 478.0,311.4"/>
<polyline points="456.0,139.0 456.8,141.3 457.9,143.5 460.0,145.0 461.2,147.5 460.6,150.5 462.0,153.0 464.6,154.3 467.0,155.6 468.9,157.9 470.3,160.9 472.9,162.9 474.1,165.0 473.1,167.6 474.9,169.5 474.9,171.9 476.0,174.4 477.9,176.2 479.9,177.9 480.7,180.2 483.0,181.6 483.9,183.9 485.5,185.9 488.4,186.2 489.5,188.9 491.9,189.9 492.9,192.9" stroke-width="1.5"/>
<polyline points="456.0,194.9 458.3,194.5 460.4,193.7 462.4,192.7 464.0,190.9 467.2,190.7 469.9,188.9 472.6,189.1 475.3,188.7 477.9,187.9 480.5,187.8 482.7,188.6 484.9,189.9 487.3,191.6 490.5,191.3 492.9,192.9" stroke-width="1.3"/>
<polyline points="492.9,193.0 496.0,193.6 498.8,195.0 501.3,196.0 502.3,198.9 504.8,200.0 507.4,200.3 509.0,202.7 511.8,202.5 513.8,204.0" stroke-width="1.3"/>
</g>
<g stroke="#000" stroke-width="1" shape-rendering="crispEdges">
<polygon points="446.9,106.9 451.9,106.5 449.9,112.9 447.9,112.9" fill="none"/>
<polygon points="393.2,179.3 395.1,181.2 396.6,184.2 395.7,186.5 392.5,186.8 390.2,188.7 389.2,184.2 391.0,181.7" fill="none"/>
<polygon points="516.4,140.3 521.4,140.3 521.4,143.6 517.0,143.6" fill="none"/>
<polygon points="531.5,144.1 533.6,143.0 539.4,143.0 539.4,146.8 533.0,147.3 531.2,146.1" fill="none"/>
<polygon points="535.9,142.8 538.8,142.8 538.8,144.7 536.1,144.7" fill="none"/>
<polygon points="502.3,150.0 505.5,148.0 507.5,151.0 504.3,155.9 501.5,155.0" fill="none"/>
<polygon points="422.0,221.9 426.9,220.9 427.9,224.9 424.0,227.9 421.6,225.9" fill="none"/>
<polygon points="500.8,196.0 505.8,197.0 506.8,200.6 502.8,200.0" fill="none"/>
<polygon points="509.4,302.3 514.8,299.9 516.2,303.9 511.8,305.9" fill="none"/>
<polygon points="508.8,307.9 515.8,306.9 516.8,311.9 509.8,312.9" fill="none"/>
<polygon points="517.8,297.9 522.2,297.5 522.8,300.9 518.8,301.5" fill="none"/>
<polygon points="498.3,359.3 504.3,358.9 504.9,363.5 498.9,363.9" fill="none"/>
<polygon points="88.9,335.9 93.9,334.4 94.9,338.9 89.9,339.9" fill="none"/>
<polygon points="123.8,369.9 127.8,367.9 132.8,368.3 131.8,371.3 124.2,371.3" fill="none"/>
<polygon points="227.3,362.9 231.9,361.5 230.9,367.5 227.9,367.9" fill="none"/>
<polygon points="254.8,316.0 259.8,314.4 260.8,319.6 255.8,320.4" fill="#ff9999"/>
<polygon points="302.3,247.6 304.3,247.0 304.9,253.0 302.9,254.0" fill="none"/>
<polygon points="344.9,249.6 348.8,249.0 349.4,252.0 345.9,253.0" fill="#ff0000"/>
<polygon points="352.2,254.4 356.8,253.0 357.8,256.9 354.8,259.9 351.8,257.9" fill="none"/>
<polygon points="292.9,301.0 297.9,298.0 302.9,299.0 306.9,297.0 311.9,299.0 309.9,304.0 306.9,308.0 302.9,305.0 298.9,305.0" fill="none"/>
<polygon points="302.3,299.0 304.3,304.0 306.9,302.0 306.9,297.0" fill="none"/>
<polygon points="310.9,360.9 314.3,358.9 316.9,363.9 313.9,366.9" fill="#ff9999"/>
<polygon points="254.0,315.0 259.0,313.6 260.4,318.0 256.0,320.0" fill="#ff9999"/>
<polygon points="362.0,284.9 366.9,282.9 369.9,284.9 374.9,289.9 370.9,292.9 364.0,295.9 362.0,290.9" fill="none"/>
<polygon points="345.6,249.4 348.4,248.6 349.2,251.0 346.4,252.2" fill="#ff0000"/>
<polygon points="352.4,254.6 356.0,253.0 357.0,257.0 354.0,259.4 352.0,257.0" fill="none"/>
<polygon points="373.7,210.4 376.7,208.6 380.2,209.2 381.2,212.7 379.0,215.7 375.2,215.7 373.3,213.4" fill="#ff5555"/>
<polygon points="386.5,220.9 390.2,218.2 394.0,220.1 392.5,223.9 388.7,224.6" fill="none"/>
<polygon points="341.0,370.5 345.0,368.0 348.0,371.0 351.0,366.5 354.0,367.5 355.0,370.0 358.5,371.0 356.5,377.0 345.0,377.0" fill="#ff5252"/>
<polygon points="501.9,153.0 503.9,152.0 504.3,155.6 501.9,155.6" fill="#000"/>
<polygon points="516.0,185.5 518.5,185.5 518.5,188.5 516.0,188.5" fill="#000"/>
<polygon points="594.5,321.5 596.0,321.0 596.5,323.5 595.0,324.0" fill="#000"/>
<polygon points="598.0,320.5 599.3,320.5 599.3,322.5 598.0,322.5" fill="#000"/>
</g>
<polyline points="560.1,278.3 558.3,280.1 560.2,282.4 562.8,283.8 564.4,285.6 565.8,287.4 566.5,289.8 567.3,292.0 569.6,293.3 571.0,295.1 571.8,297.3 573.1,299.5 575.6,300.4 577.0,302.5 578.8,304.3 581.3,305.1 583.0,307.0 585.9,307.0 588.5,308.8 591.4,308.9 594.0,311.0 595.6,313.4 598.0,315.0 600.0,316.6 601.0,319.0 601.5,322.0 601.0,325.0 599.5,327.3 599.0,330.0 596.2,331.6 593.0,332.0 590.1,331.9 587.6,330.5 585.7,328.9 584.6,326.7 582.6,325.4 580.9,323.8 579.5,322.0 578.2,320.0 576.7,318.0 575.5,315.7 574.8,313.3 572.9,311.2 572.0,308.5 568.9,308.9 566.0,308.0 563.2,306.4 560.0,306.0 557.3,306.3 554.6,305.8 552.0,305.0 549.6,304.0 547.0,304.0 545.0,302.2 542.1,302.3 540.0,300.6 537.3,300.4 534.6,300.0 532.0,299.0 529.3,298.4 526.7,299.7 524.0,299.0 520.0,298.0 520.0,300.0 532.0,301.0 534.5,302.1 537.2,302.5 539.9,302.6 542.0,304.2 544.7,304.5 546.9,306.0 549.9,309.0 552.4,308.8 555.0,308.9 557.3,310.3 559.9,310.0 561.5,311.9 563.6,313.1 565.9,314.0 567.4,316.4 567.3,319.5 568.9,321.9 571.1,322.9 572.1,325.4 574.5,326.1 576.0,328.0 577.4,329.9 579.9,330.5 580.9,332.9 583.0,333.9 583.6,336.1 585.0,337.9 583.6,339.7 583.0,341.9 586.9,340.5 589.3,339.3 591.9,338.9 594.0,336.4 596.9,334.9 599.9,333.3 602.4,333.7 604.4,335.5 606.9,335.9 609.5,336.8 611.2,339.1 613.9,339.9 616.1,337.8 618.9,336.9 622.0,336.9 624.9,337.9 626.9,348.9 628.2,351.2 627.8,354.1 628.6,356.6 629.9,358.9 631.3,361.2 630.9,364.1 631.5,366.6 632.9,368.9 633.7,371.2 632.9,373.7 633.9,375.9 500.0,377.0 400.0,377.0 268.0,377.0 234.0,376.0 200.0,374.3 170.0,372.0 130.0,371.6 64.0,371.6 7.5,371.6 7.5,371.0 11.0,369.5 13.3,368.8 14.8,366.8 16.8,365.7 19.0,364.9 21.6,365.0 24.1,364.7 26.4,363.4 29.0,363.5 31.3,362.1 33.0,359.9 35.1,358.9 37.6,359.5 39.6,357.9 42.0,357.9 44.2,357.2 46.4,357.0 48.6,356.4 50.9,356.9 52.1,354.4 51.8,351.5 52.9,348.9 54.9,346.3 57.6,346.5 60.3,346.4 62.9,345.5 65.4,344.0 68.1,342.9 70.9,342.3 71.1,339.7 71.9,337.3 72.9,335.0 75.0,332.8 75.9,330.0 78.6,329.5 80.9,328.0 82.4,325.5 84.9,324.0 85.1,321.4 83.9,319.0 86.9,316.0 97.9,309.0 99.7,307.6 101.6,306.5 103.9,306.0 115.9,301.0 118.8,300.0 119.0,298.9 129.0,290.0 138.0,281.0 140.3,279.5 141.7,277.0 144.0,275.6 146.9,276.4 146.9,279.0 145.5,281.5 143.0,283.0 145.3,284.7 146.9,287.0 146.9,289.5 148.9,291.5 148.9,294.0 151.4,296.0 152.9,298.9 155.6,300.0 157.9,301.9 160.2,303.7 162.9,304.9 163.9,307.9 166.6,308.5 168.9,309.9 171.0,308.7 173.5,309.5 175.8,309.0 177.9,307.9 179.9,306.0 182.7,305.3 184.4,303.0 186.9,301.9 189.2,300.6 190.5,298.1 192.9,296.9 203.9,305.9 206.2,304.4 208.7,303.3 211.1,302.3 213.9,301.9 216.5,301.2 219.3,301.9 221.8,300.9 231.8,293.0 232.2,289.8 233.8,287.0 236.5,287.7 238.1,290.2 240.8,291.0 243.1,289.0 246.0,287.9 248.5,287.3 250.5,285.4 253.0,284.9 255.2,284.3 256.7,282.3 258.7,281.3 261.0,280.9 263.1,282.6 264.4,284.9 266.0,283.2 268.4,282.6 270.0,280.9 272.0,278.9 274.9,278.0 276.9,275.9 277.9,272.9 280.1,270.5 282.9,268.9 281.5,267.1 281.3,264.7 279.9,262.9 279.8,259.8 280.9,256.9 282.5,254.1 284.9,252.0 286.3,250.2 286.3,247.7 288.5,246.3 288.9,244.0 290.0,241.6 291.8,239.7 293.9,238.0 296.3,236.9 297.5,234.2 299.9,233.0 302.3,230.7 304.0,227.9 304.3,225.3 306.0,223.1 306.6,220.5 307.0,217.9 308.1,215.3 308.7,212.7 309.0,209.9 311.3,208.2 312.7,205.6 315.0,203.9 317.3,202.4 320.0,201.9 318.9,199.0 319.0,195.9 320.6,193.5 323.0,192.0 323.3,189.1 325.5,186.9 325.9,184.0 326.0,180.9 326.9,178.0 327.4,174.8 328.9,172.0 329.6,169.8 330.9,168.0 333.1,169.3 335.7,168.8 337.9,170.0 339.2,172.3 340.9,174.3 342.9,176.0 342.7,178.6 343.9,181.0 345.7,182.4 347.7,183.4 349.9,184.0 352.4,185.3 355.0,186.5 357.9,187.0 359.0,184.2 360.9,182.0 363.2,181.6 364.9,180.0 365.5,176.9 366.9,174.0 367.3,171.4 369.5,169.6 369.9,167.0 371.4,164.7 371.9,162.0 372.9,160.9 373.5,158.7 374.3,156.6 375.9,154.9 377.4,152.8 377.4,150.0 378.9,147.9 379.9,145.7 381.2,143.7 382.9,142.0 393.9,148.9 394.5,146.7 396.3,145.2 396.9,143.0 398.3,140.8 399.9,138.7 401.9,137.0 404.2,135.9 405.9,134.0 408.9,131.0 411.1,130.4 412.9,129.0 414.1,126.9 415.9,125.3 417.9,124.0 419.4,122.2 419.9,120.0 420.0,121.9 422.3,120.2 424.0,117.9 425.7,115.8 427.6,114.1 430.0,112.9 428.4,111.2 428.0,108.9 428.8,106.6 431.2,105.2 432.0,102.9 430.4,101.2 430.0,98.9 429.8,95.8 431.0,93.0 432.6,90.9 432.5,88.1 434.0,86.0 433.9,83.6 435.6,81.7 435.6,79.4 449.9,90.0 459.9,100.9 468.9,107.9 470.5,109.9 472.5,111.4 475.2,112.0 476.9,113.9 480.9,102.9 481.2,100.0 483.3,97.8 483.9,95.0 486.5,95.3 488.9,94.4 491.5,94.7 493.9,95.9 497.9,95.6 499.3,98.9 501.7,99.5 503.5,101.3 505.9,101.9 505.8,105.0 504.9,107.9 501.9,108.9 500.0,110.0 500.2,112.3 501.7,114.1 505.2,115.2 505.8,118.7 508.3,119.7 511.1,119.2 513.5,120.7 516.2,120.4 517.4,121.6 519.9,122.5 522.6,122.2 524.0,124.6 524.3,127.4 526.8,128.9 529.9,129.2 532.4,130.8 534.1,133.1 536.0,134.5 536.9,136.9 539.2,138.1 540.5,140.1 540.1,142.4 540.5,144.7 541.0,147.0 541.2,149.4 540.5,151.7 539.1,153.6 538.8,155.9 534.9,156.9 532.3,159.9 531.5,163.5 527.5,165.1 525.5,162.3 523.5,159.9 522.7,162.5 523.3,165.3 522.3,167.9 521.0,170.7 520.9,173.9 519.9,176.3 517.9,177.9 518.3,180.3 517.0,182.5 517.3,184.9 517.1,187.5 518.0,190.0 519.0,192.4 521.0,194.0 523.2,193.1 525.4,192.6 527.9,193.2 530.0,192.0 532.4,191.4 534.6,190.6 536.5,188.9 538.9,188.4 541.9,190.0 541.5,192.5 541.5,195.0 542.8,197.5 542.5,200.0 546.3,202.0 547.0,204.4 546.9,206.9 549.2,207.8 550.6,210.0 552.9,210.9 555.3,210.7 557.5,212.0 559.9,211.9 562.1,212.4 564.1,213.4 565.9,214.9 568.9,212.9 571.8,213.8 574.9,213.9 576.0,216.3 575.9,218.9 577.5,220.9 579.9,221.9 581.5,225.9 584.0,226.3 585.9,227.9 588.1,230.3 590.9,231.9 593.4,232.4 595.7,233.6 597.9,234.9 600.2,235.8 602.2,237.1 603.9,238.9 603.4,241.9 604.3,244.9 603.9,245.0 601.7,246.9 598.9,248.0 598.8,250.6 599.9,253.0 598.3,255.3 597.9,258.0 597.4,261.0 597.9,264.0 600.9,265.9 600.4,268.0 600.4,268.0" fill="none" stroke="#000" stroke-width="1.2" stroke-linejoin="round" shape-rendering="crispEdges"/>
<polyline points="550.3,225.5 549.0,226.2 549.5,228.8 551.0,231.0 553.1,232.1 554.0,234.6 555.7,236.1 557.6,237.4 559.1,239.9 561.2,241.8 563.6,243.4 565.5,245.6 566.3,248.5 568.3,250.6 570.4,251.9 572.0,253.7 573.3,255.8 574.6,257.8 575.1,260.3 576.2,262.5 577.6,264.5 579.7,266.5 582.4,267.5 584.7,269.0 587.2,269.9 589.9,270.4 591.9,272.5 594.4,274.0 596.9,275.2 599.6,275.4 599.6,275.4 600.4,279.2 602.4,281.5 603.4,284.4 603.6,286.7 602.5,288.9 603.5,291.2 602.6,293.4 601.0,296.2 600.4,299.4 598.1,295.7 597.6,293.2 595.9,291.2 594.9,288.9 592.9,287.4 589.9,288.0 588.2,289.6 586.1,290.4 589.1,293.4 586.9,296.4 588.9,298.0 591.4,298.7 592.9,301.6 595.9,303.9 594.4,305.9 592.1,306.9 592.1,306.9" fill="none" stroke="#000" stroke-width="1.2" stroke-linejoin="round" shape-rendering="crispEdges"/>
</g>
<!--/MAP-->
<g id="titles">
<text class="t" x="343.4" y="20" textLength="271" lengthAdjust="spacingAndGlyphs">SENATOR JOHN S. McCAIN III</text>
<text class="t" x="343.3" y="43" textLength="370.5" lengthAdjust="spacingAndGlyphs">Virginia Republican Presidential Primary</text>
<text class="t" x="344.2" y="66" textLength="166" lengthAdjust="spacingAndGlyphs">February 12, 2008</text>
</g>
<g id="legend">
<text class="l" x="80" y="121.3" textLength="134.5" lengthAdjust="spacingAndGlyphs">Percentage of Vote</text>
<rect x="74.5" y="133.5" width="14" height="15" fill="#ff0000" stroke="#000"/>
<rect x="74.5" y="152.5" width="14" height="15" fill="#ff5555" stroke="#000"/>
<rect x="74.5" y="171.5" width="14" height="15" fill="#ff9999" stroke="#000"/>
<rect x="74.5" y="190.5" width="14" height="15" fill="#ffd2d2" stroke="#000"/>
<text class="l" x="101.5" y="148" textLength="119.7" lengthAdjust="spacingAndGlyphs">Greater than 56.2</text>
<text class="l" x="101.5" y="167" textLength="83" lengthAdjust="spacingAndGlyphs">45.9 to 56.2</text>
<text class="l" x="101.5" y="186" textLength="82.6" lengthAdjust="spacingAndGlyphs">35.5 to 45.8</text>
<text class="l" x="101.5" y="204.5" textLength="101.6" lengthAdjust="spacingAndGlyphs">Less than 35.5</text>
</g>
<g id="notes">
<text class="a" x="602" y="134">High:</text>
<text class="a" x="602" y="150">Alexandria City</text>
<text class="a" x="602" y="166">69.87%</text>
<text class="a" x="209.3" y="235">Low:</text>
<text class="a" x="209.5" y="251">Campbell County</text>
<text class="a" x="209.8" y="267">24.93%</text>
<line x1="538" y1="145.5" x2="551" y2="145.5" stroke="#000" stroke-width="1" shape-rendering="crispEdges"/>
<line x1="244" y1="261" x2="374.7" y2="308.7" stroke="#000" stroke-width="1" shape-rendering="crispEdges"/>
</g>
<g id="footer">
<text class="f" x="7" y="393" textLength="195.6" lengthAdjust="spacingAndGlyphs">Source: Virginia State Board of Elections</text>
<text class="f" x="206.2" y="393" textLength="37.2" lengthAdjust="spacingAndGlyphs">(https://</text>
<text class="f" x="244.8" y="393" textLength="25.6" lengthAdjust="spacingAndGlyphs">www</text>
<text class="f" x="271.8" y="393" textLength="170.3" lengthAdjust="spacingAndGlyphs">.voterinfo.sbe.virginia.gov/election)</text>
<text class="f" x="449.1" y="393" textLength="120.5" lengthAdjust="spacingAndGlyphs">As of 2-20-2008 9:30 pm</text>
<text class="f" x="624.6" y="393" textLength="44" lengthAdjust="spacingAndGlyphs">D. Hardin</text>
</g>
</svg>
</body></html>
